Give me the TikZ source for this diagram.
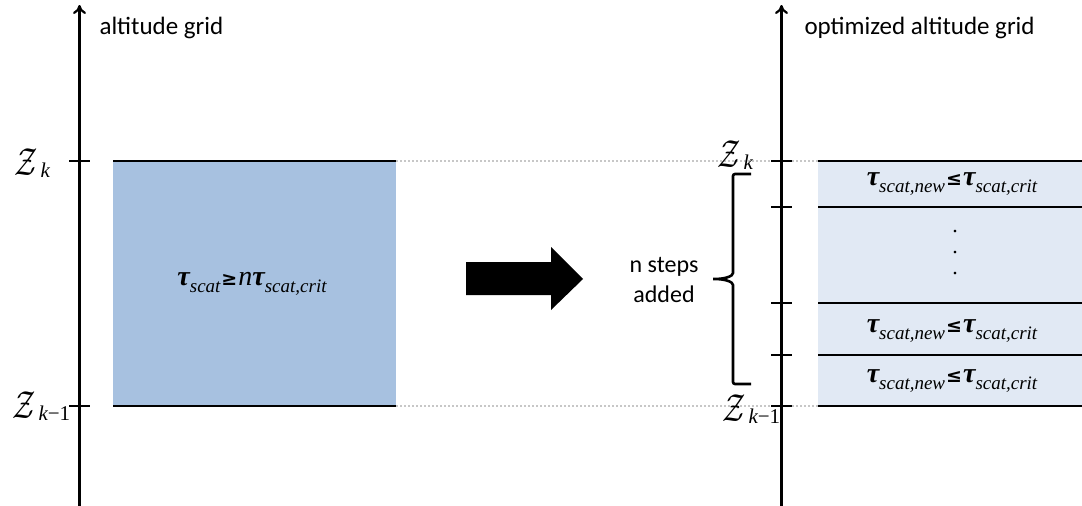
\documentclass[tikz,border=0pt]{standalone}
\usepackage{fontspec}
\setmainfont{Carlito}
\newfontfamily\tms{Liberation Serif}
\newfontfamily\relfont{DejaVu Sans}
\usetikzlibrary{arrows.meta}

% optical depth symbols
\newcommand\tausym{{\tms\bfseries\itshape τ}}
\newcommand\tauwith[1]{\tausym\raisebox{-7.5pt}{\fontsize{19}{19}\selectfont\tms\itshape #1}}
\newcommand\relsym[1]{\hspace{1pt}{\fontsize{19}{19}\selectfont\relfont\bfseries #1}\hspace{1pt}}
% altitude level labels
\newcommand\zlev[1]{{\fontsize{10}{10}\selectfont\scalebox{2.9}[3.9]{$\mathcal{Z}$}}\hspace{3pt}\raisebox{-2pt}{\fontsize{21}{21}\selectfont\tms #1}}

\tikzset{
  axisline/.style={line width=2.6pt, -{To[length=9pt,width=13pt,line width=2.2pt]}},
  tickmark/.style={line width=2.6pt},
  levelline/.style={line width=1.6pt},
  guide/.style={line width=2pt, dotted, draw=black!22},
  caption/.style={font=\fontsize{25}{25}\selectfont, anchor=west},
  formula/.style={font=\fontsize{28}{28}\selectfont, inner sep=0pt, anchor=base},
  zlabel/.style={inner sep=0pt, anchor=base west},
  bracepath/.style={line width=2.6pt, rounded corners=2pt},
}

\begin{document}
\begin{tikzpicture}[x=1pt,y=-1pt]
\useasboundingbox (0,0) rectangle (1082,506);

\definecolor{thickblue}{HTML}{A7C1E0}
\definecolor{thinblue}{HTML}{E1E9F4}

% ---------- original grid ----------
\fill[thickblue] (113,161) rectangle (396,406);
\node[formula] (ftau) at (252,285) {\tauwith{scat}\relsym{≥}{\tms\itshape n}\tauwith{scat,crit}};
\draw[levelline] (113,161) -- (396,161);
\draw[levelline] (113,406) -- (396,406);

\coordinate (lbot) at (79.5,506);
\coordinate (ltop) at (79.5,5);
\draw[axisline] (lbot) -- (ltop);
\node[caption] (lcap) at (96,28) {altitude grid};

\draw[tickmark] (69,161) -- (90,161);
\draw[tickmark] (69,406) -- (90,406);
\node[zlabel] (lzk) at (14,175) {\zlev{\itshape k}};
\node[zlabel] (lzk1) at (12,418) {\zlev{{\itshape k}−1}};

% ---------- level guides ----------
\coordinate (gA) at (396,161);
\coordinate (gB) at (818,161);
\coordinate (gC) at (396,406);
\coordinate (gD) at (818,406);
\draw[guide] (gA) -- (gB);
\draw[guide] (gC) -- (gD);

% ---------- transition arrow ----------
\fill[black] (466,262) -- (551,262) -- (551,247) -- (583,279) -- (551,310) -- (551,295) -- (466,295) -- cycle;

% ---------- optimized grid ----------
\fill[thinblue] (818,161) rectangle (1082,406);
\foreach \yy in {161,207,303,355,406}
  \draw[levelline] (818,\yy) -- (1082,\yy);

\node[formula] (r1) at (952,185) {\tauwith{scat,new}\relsym{≤}\tauwith{scat,crit}};
\node[formula, anchor=center, align=center, font=\fontsize{22}{21}\selectfont\tms] (dots) at (955,253) {.\\.\\.};
\node[formula] (r2) at (952,332) {\tauwith{scat,new}\relsym{≤}\tauwith{scat,crit}};
\node[formula] (r3) at (952,382) {\tauwith{scat,new}\relsym{≤}\tauwith{scat,crit}};

\coordinate (rbot) at (781.5,506);
\coordinate (rtop) at (781.5,5);
\draw[axisline] (rbot) -- (rtop);
\node[caption] (rcap) at (801,28) {optimized altitude grid};

\foreach \yy in {161,207,303,355,406}
  \draw[tickmark] (771,\yy) -- (792,\yy);

\node[zlabel] (rzk) at (717,167) {\zlev{\itshape k}};
\node[zlabel] (rzk1) at (722,421) {\zlev{{\itshape k}−1}};

% brace gathering the new steps
\coordinate (bt) at (751,174);
\coordinate (bb) at (751,384);
\coordinate (btip) at (712,279);
\draw[bracepath] (bt) -- (733,174) -- (733,271)
  .. controls (733,276) and (726,279) .. (btip)
  .. controls (726,279) and (733,282) .. (733,287) -- (733,384) -- (bb);
\node[align=center, font=\fontsize{24}{30}\selectfont] (nsteps) at (664,280) {n steps\\added};

\end{tikzpicture}
\end{document}
